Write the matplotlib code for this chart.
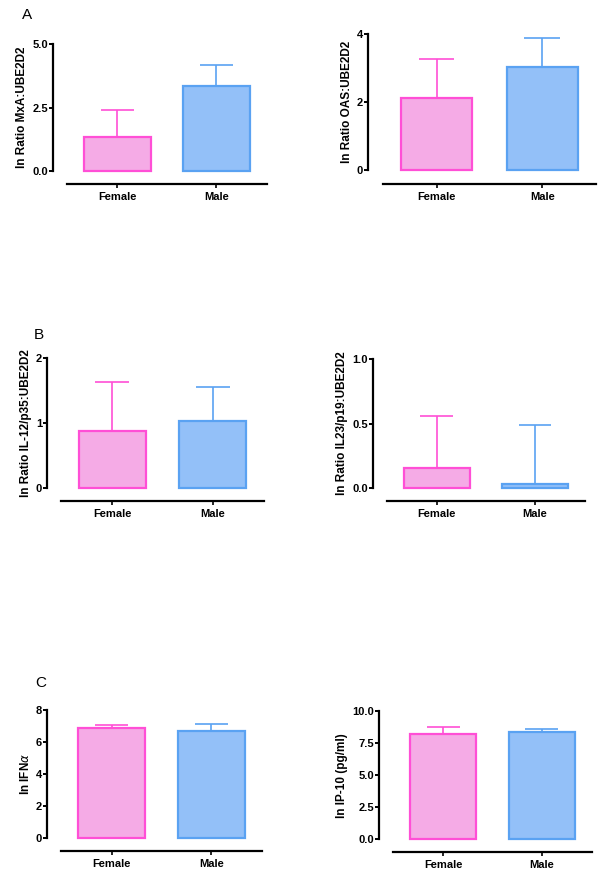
"""Female vs male bar panels (A, B, C), GraphPad-like style."""

import matplotlib

matplotlib.use("Agg")
import matplotlib.pyplot as plt  # noqa: E402

plt.rcParams["font.family"] = ["Liberation Sans", "DejaVu Sans"]

groups = ["Female", "Male"]

mxa_mean = [1.35, 3.36]
mxa_err = [1.07, 0.82]
oas_mean = [2.13, 3.02]
oas_err = [1.13, 0.86]
il12_mean = [0.88, 1.03]
il12_err = [0.75, 0.52]
il23_mean = [0.155, 0.035]
il23_err = [0.40, 0.45]
ifna_mean = [6.88, 6.70]
ifna_err = [0.18, 0.45]
ip10_mean = [8.20, 8.35]
ip10_err = [0.55, 0.25]

FILL = ["#f5abe6", "#93c0f8"]
EDGE = ["#ff4fd6", "#5aa2f2"]
W, H = 600, 875

# (left px, width px, top px, bottom px) for each panel
panels = [
    ("ln Ratio MxA:UBE2D2", mxa_mean, mxa_err, 5.0, [0, 2.5, 5.0], "{:.1f}", (53, 214, 44, 184)),
    ("ln Ratio OAS:UBE2D2", oas_mean, oas_err, 4, [0, 2, 4], "{:.0f}", (368, 228, 34, 184)),
    ("ln Ratio IL-12/p35:UBE2D2", il12_mean, il12_err, 2, [0, 1, 2], "{:.0f}", (47, 217, 358, 501)),
    ("ln Ratio IL23/p19:UBE2D2", il23_mean, il23_err, 1.0, [0, 0.5, 1.0], "{:.1f}", (373, 212, 359, 501)),
    ("ln IFN$\\alpha$", ifna_mean, ifna_err, 8, [0, 2, 4, 6, 8], "{:.0f}", (47, 215, 710, 851)),
    ("ln IP-10 (pg/ml)", ip10_mean, ip10_err, 10.0, [0, 2.5, 5.0, 7.5, 10.0], "{:.1f}", (379, 213, 711, 852)),
]

fig = plt.figure(figsize=(W / 100, H / 100), dpi=100)

for label, mean, err, ymax, ticks, fmt, (l, w, t, b) in panels:
    ax = fig.add_axes([l / W, 1 - b / H, w / W, (b - t) / H])
    x = list(range(len(groups)))
    bw = 0.67
    tops = [m + e for m, e in zip(mean, err)]
    ax.vlines(x, mean, tops, colors=EDGE, lw=1.2, zorder=1)
    ax.hlines(tops, [i - bw / 4 for i in x], [i + bw / 4 for i in x], colors=EDGE, lw=1.2, zorder=1)
    ax.bar(x, mean, bw, color=FILL, edgecolor=EDGE, linewidth=1.6, zorder=2)

    ax.set_xlim(-0.65, 1.51)
    ax.set_ylim(-0.1 * ymax, ymax)
    for s in ["top", "right"]:
        ax.spines[s].set_visible(False)
    ax.spines["left"].set_bounds(0, ymax)
    ax.spines["bottom"].set_bounds(-0.51, 1.51)
    ax.spines["left"].set_linewidth(1.6)
    ax.spines["bottom"].set_linewidth(1.6)
    ax.set_yticks(ticks)
    ax.set_yticklabels([fmt.format(v) for v in ticks])
    ax.set_xticks(x)
    ax.set_xticklabels(groups)
    ax.tick_params(axis="y", length=3, width=1.4, pad=0.5, labelsize=8)
    ax.tick_params(axis="x", length=3, width=1.2, pad=3, labelsize=8)
    for lab in ax.get_xticklabels() + ax.get_yticklabels():
        lab.set_fontweight("bold")
    ax.set_ylabel(label, fontsize=8.5, fontweight="bold", labelpad=3)
    # centre the label on the drawn spine (0..ymax), not on the whole axes box
    ax.yaxis.label.set_y(0.545)
    ax.patch.set_visible(False)

fig.text(27 / W, 1 - 15 / H, "A", fontsize=11, ha="center", va="center")
fig.text(39 / W, 1 - 335 / H, "B", fontsize=11, ha="center", va="center")
fig.text(41 / W, 1 - 683 / H, "C", fontsize=11, ha="center", va="center")

fig.savefig("out.png", dpi=100)
